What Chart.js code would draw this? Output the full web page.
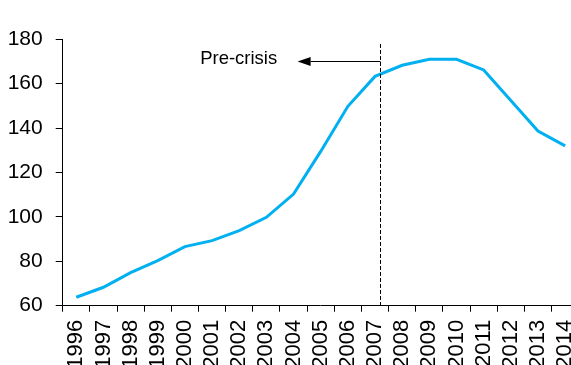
<!DOCTYPE html>
<html>
<head>
<meta charset="utf-8">
<script src="https://cdn.jsdelivr.net/npm/chart.js@4/dist/chart.umd.min.js"></script>
<style>
  html, body { margin: 0; padding: 0; background: #fff; overflow: hidden; }
  #wrap { width: 571px; height: 365px; overflow: hidden; position: relative; }
  canvas { display: block; }
</style>
</head>
<body>
<div id="wrap"><canvas id="c" width="600" height="395"></canvas></div>
<script>
// Index by year
const years = ['1996','1997','1998','1999','2000','2001','2002','2003','2004','2005',
               '2006','2007','2008','2009','2010','2011','2012','2013','2014'];
const indexValues = [63.8, 68.3, 74.9, 80.3, 86.6, 89.3, 93.8, 99.8, 110.3, 129.5,
                     149.8, 163.3, 168.3, 171.0, 171.0, 166.2, 152.4, 138.7, 132.0];
const yTicks = [60, 80, 100, 120, 140, 160, 180];

// Pre-crisis marker: vertical dashed line just after 2007, arrow pointing back
const crisisIndex = 11.2;      // position on the category axis
const crisisTop = 177.9;       // top of the dashed line (y units)
const arrowLevel = 170.2;      // y level of the arrow
const arrowTipIndex = 8.15;    // arrow tip position on the category axis
const labelText = 'Pre-crisis';
const labelIndex = 5.98;       // label centre on the category axis

const FONT = '"Liberation Sans", Arial, sans-serif';
const CANVAS_H = 395;

const crisisMarker = {
  id: 'crisisMarker',
  afterDatasetsDraw(chart) {
    const { ctx, scales: { x, y } } = chart;
    const xl = x.getPixelForValue(crisisIndex);
    const yTop = y.getPixelForValue(crisisTop);
    const yBot = y.getPixelForValue(60);
    ctx.save();
    // dashed vertical
    ctx.strokeStyle = '#000';
    ctx.lineWidth = 1;
    ctx.setLineDash([4, 2]);
    ctx.beginPath();
    ctx.moveTo(Math.round(xl) + 0.5, yTop);
    ctx.lineTo(Math.round(xl) + 0.5, yBot);
    ctx.stroke();
    ctx.setLineDash([]);
    // arrow
    const ya = Math.round(y.getPixelForValue(arrowLevel)) + 0.5;
    const xt = x.getPixelForValue(arrowTipIndex);
    const headLen = 13, headHalf = 4.5;
    ctx.beginPath();
    ctx.moveTo(Math.round(xl) + 0.5, ya);
    ctx.lineTo(xt + headLen, ya);
    ctx.stroke();
    ctx.fillStyle = '#000';
    ctx.beginPath();
    ctx.moveTo(xt, ya);
    ctx.lineTo(xt + headLen, ya - headHalf);
    ctx.lineTo(xt + headLen, ya + headHalf);
    ctx.closePath();
    ctx.fill();
    // label
    ctx.font = '18.5px ' + FONT;
    ctx.textAlign = 'center';
    ctx.textBaseline = 'middle';
    ctx.fillText(labelText, x.getPixelForValue(labelIndex), ya - 2.5);
    ctx.restore();
  }
};

new Chart(document.getElementById('c'), {
  type: 'line',
  data: {
    labels: years,
    datasets: [{
      data: indexValues,
      borderColor: '#00B0F0',
      borderWidth: 3,
      pointRadius: 0,
      tension: 0,
      fill: false
    }]
  },
  options: {
    responsive: false,
    animation: false,
    devicePixelRatio: 1,
    layout: { padding: { top: 39.3, right: 17.6, left: 0, bottom: 0 } },
    plugins: { legend: { display: false }, tooltip: { enabled: false } },
    scales: {
      x: {
        type: 'category',
        offset: true,
        grid: {
          offset: true,
          drawOnChartArea: false,
          drawTicks: true,
          tickLength: 6,
          color: '#000',
          tickColor: '#000'
        },
        border: { color: '#000', width: 1 },
        ticks: {
          minRotation: 90,
          maxRotation: 90,
          autoSkip: false,
          padding: 8,
          color: '#000',
          font: { family: FONT, size: 22 }
        },
        afterFit(scale) { scale.height = CANVAS_H - 305.7; }
      },
      y: {
        min: 60,
        max: 180,
        afterBuildTicks(scale) { scale.ticks = yTicks.map(v => ({ value: v })); },
        grid: {
          drawOnChartArea: false,
          drawTicks: true,
          tickLength: 7,
          color: '#000',
          tickColor: '#000'
        },
        border: { color: '#000', width: 1 },
        ticks: {
          padding: 13,
          color: '#000',
          font: { family: FONT, size: 21 }
        },
        afterFit(scale) { scale.width = 62.7; }
      }
    }
  },
  plugins: [crisisMarker]
});
</script>
</body>
</html>
